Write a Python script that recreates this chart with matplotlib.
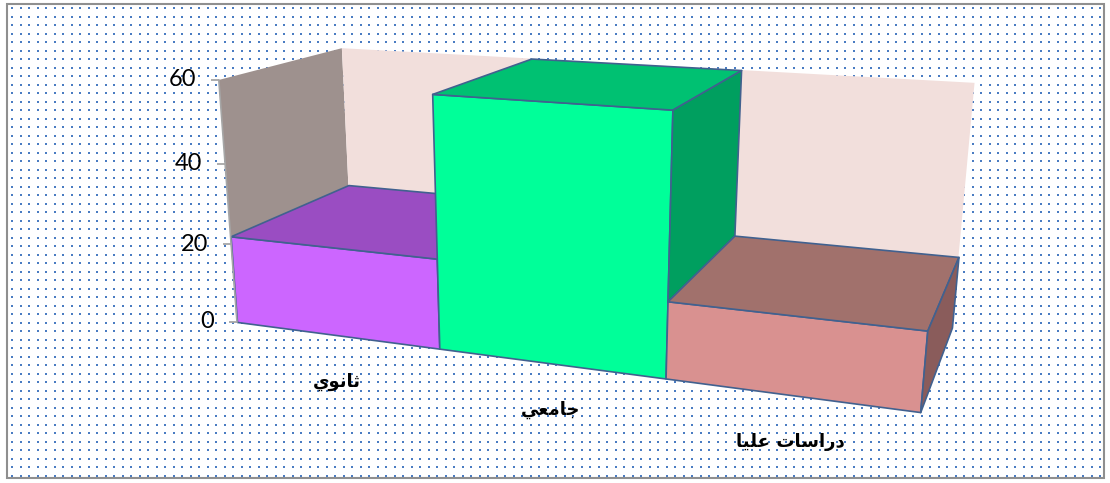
import numpy as np
import matplotlib
matplotlib.use('Agg')
import matplotlib.pyplot as plt
from matplotlib.patches import Rectangle
from matplotlib.transforms import offset_copy
from mpl_toolkits.mplot3d.art3d import Poly3DCollection

categories = ['ثانوي', 'جامعي', 'دراسات عليا']
values = [22, 60, 18]
ticks = [0, 20, 40, 60]
y_max = 60

front_colors = ['#cc66ff', '#00ff99', '#d99190']
top_colors = ['#9a4dc2', '#00c172', '#a1716c']
side_colors = ['#8a3fb0', '#009f5f', '#8a5c5b']
edge_color = '#41618f'

# isolated, final, initial, medial presentation forms
FORMS = {
    'ا': ('\ufe8d', '\ufe8e', None, None),
    'ت': ('\ufe95', '\ufe96', '\ufe97', '\ufe98'),
    'ث': ('\ufe99', '\ufe9a', '\ufe9b', '\ufe9c'),
    'ج': ('\ufe9d', '\ufe9e', '\ufe9f', '\ufea0'),
    'د': ('\ufea9', '\ufeaa', None, None),
    'ر': ('\ufead', '\ufeae', None, None),
    'س': ('\ufeb1', '\ufeb2', '\ufeb3', '\ufeb4'),
    'ع': ('\ufec9', '\ufeca', '\ufecb', '\ufecc'),
    'ل': ('\ufedd', '\ufede', '\ufedf', '\ufee0'),
    'م': ('\ufee1', '\ufee2', '\ufee3', '\ufee4'),
    'ن': ('\ufee5', '\ufee6', '\ufee7', '\ufee8'),
    'و': ('\ufeed', '\ufeee', None, None),
    'ي': ('\ufef1', '\ufef2', '\ufef3', '\ufef4'),
}


def shape_arabic(word):
    out = []
    for i, ch in enumerate(word):
        if ch not in FORMS:
            out.append(ch)
            continue
        prev = word[i - 1] if i > 0 else ''
        nxt = word[i + 1] if i + 1 < len(word) else ''
        iso, fin, ini, med = FORMS[ch]
        join_prev = prev in FORMS and FORMS[prev][2] is not None
        join_next = nxt in FORMS and ini is not None
        if join_prev and join_next:
            out.append(med)
        elif join_prev:
            out.append(fin)
        elif join_next:
            out.append(ini)
        else:
            out.append(iso)
    return ''.join(reversed(out))


fig = plt.figure(figsize=(11.1, 4.83), dpi=100)
fig.patch.set_facecolor('white')

# dotted chart background and frame
bg = fig.add_axes([0, 0, 1, 1])
bg.set_xlim(0, 1110)
bg.set_ylim(483, 0)
bg.axis('off')
gx, gy = np.meshgrid(np.arange(12, 1104, 8.5), np.arange(8, 478, 8.5))
bg.scatter(gx.ravel(), gy.ravel(), s=1.5, marker='s', color='#4a7cc2',
           linewidths=0)
bg.add_patch(Rectangle((7, 4), 1097, 474, fill=False, edgecolor='#8f8f8f', lw=1.5))

ax = fig.add_axes([0.0832, -0.6306, 0.8168, 1.8772], projection='3d')
ax.set_proj_type('persp', focal_length=0.2916)
ax.view_init(elev=18.5, azim=-69.1)
ax.set_axis_off()
for a in (ax.xaxis, ax.yaxis, ax.zaxis):
    a.set_visible(False)
    a.label.set_visible(False)
    a.offsetText.set_visible(False)
for a in fig.axes:
    a.title.set_visible(False)
ax.patch.set_visible(False)
ax.computed_zorder = False

n = len(values)

# walls
left_wall = [[(0, 0, 0), (0, 1, 0), (0, 1, y_max), (0, 0, y_max)]]
back_wall = [[(0, 1, 0), (n, 1, 0), (n, 1, y_max), (0, 1, y_max)]]
ax.add_collection3d(Poly3DCollection(left_wall, facecolor='#9e918e', edgecolor='none'))
ax.add_collection3d(Poly3DCollection(back_wall, facecolor='#f2dfdc', edgecolor='none'))

# value axis
ax.plot([0, 0], [0, 0], [0, y_max], color='#a6a6a6', lw=1.2)
ax.plot(np.zeros(len(ticks)), np.zeros(len(ticks)), ticks, ls='none',
        marker=[(-1, 0), (0, 0)], markersize=11.5, mew=1.3, color='#a6a6a6')
tick_tr = offset_copy(ax.transData, fig=fig, x=-23, y=0, units='dots')
for t in ticks:
    ax.text(0, 0, t, str(t), transform=tick_tr, ha='right', va='center',
            fontsize=17, family='Lato', color='black')

# bars, drawn left to right so nearer faces cover farther ones
for i, v in enumerate(values):
    x0, x1 = i, i + 1
    front = [(x0, 0, 0), (x1, 0, 0), (x1, 0, v), (x0, 0, v)]
    top = [(x0, 0, v), (x1, 0, v), (x1, 1, v), (x0, 1, v)]
    faces = [front, top]
    colors = [front_colors[i], top_colors[i]]
    nxt = values[i + 1] if i + 1 < n else 0
    if nxt < v:
        faces.append([(x1, 0, nxt), (x1, 1, nxt), (x1, 1, v), (x1, 0, v)])
        colors.append(side_colors[i])
    for f, c in zip(faces, colors):
        ax.add_collection3d(Poly3DCollection([f], facecolor=c, edgecolor=edge_color,
                                             linewidths=1.2))

# category labels under the front edge
label_tr = offset_copy(ax.transData, fig=fig, x=1, y=-47, units='dots')
for i, name in enumerate(categories):
    ax.text(i + 0.5, 0, 0, shape_arabic(name), transform=label_tr, ha='center',
            va='center', fontsize=13, fontweight='bold', family='DejaVu Sans')

ax.set_xlim(-0.17, 3.0, view_margin=0)
ax.set_ylim(-0.391, 1.0, view_margin=0)
ax.set_zlim(-52.5, 60, view_margin=0)
ax.set_box_aspect((3.17, 1.4786, 2.028))

fig.savefig('out.png', dpi=100)
